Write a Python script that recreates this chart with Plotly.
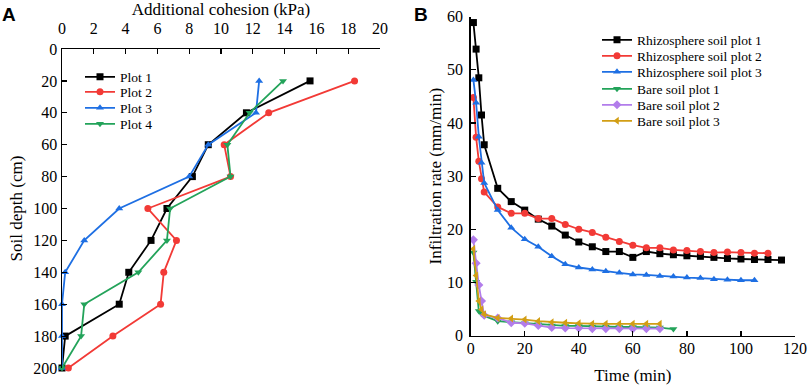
import plotly.graph_objects as go

# ---------- Panel A data ----------
depth = [20, 40, 60, 80, 100, 120, 140, 160, 180, 200]
plot1 = [15.6, 11.6, 9.2, 8.2, 6.6, 5.6, 4.2, 3.6, 0.2, 0.0]
plot2 = [18.4, 13.0, 10.2, 10.6, 5.4, 7.2, 6.4, 6.2, 3.2, 0.4]
plot3 = [12.4, 12.2, 9.2, 8.0, 3.6, 1.4, 0.2, 0.0, 0.0, 0.0]
plot4 = [13.9, 11.8, 10.4, 10.6, 6.8, 6.6, 4.8, 1.4, 1.2, 0.0]

# ---------- Panel B data ----------
t_r1 = [1, 2, 3, 4, 5, 10, 15, 20, 25, 30, 35, 40, 45, 50, 55, 60, 65, 70, 75, 80, 85, 90, 95, 100, 105, 110, 115]
rhizo1 = [58.9, 53.9, 48.5, 41.5, 35.9, 27.7, 25.2, 23.6, 21.9, 20.6, 18.9, 17.6, 16.7, 15.8, 15.8, 14.7, 15.8,
          15.4, 15.2, 15.0, 14.9, 14.7, 14.5, 14.4, 14.3, 14.3, 14.2]
t_r2 = [1, 2, 3, 4, 5, 10, 15, 20, 25, 30, 35, 40, 45, 50, 55, 60, 65, 70, 75, 80, 85, 90, 95, 100, 105, 110]
rhizo2 = [44.8, 37.3, 32.8, 29.5, 27.0, 24.2, 23.0, 23.0, 22.0, 22.0, 20.9, 20.0, 19.4, 18.5, 17.7, 17.0, 16.5,
          16.5, 16.1, 16.0, 15.8, 15.6, 15.7, 15.6, 15.5, 15.5]
t_r3 = [1, 2, 3, 4, 5, 10, 15, 20, 25, 30, 35, 40, 45, 50, 55, 60, 65, 70, 75, 80, 85, 90, 95, 100, 105]
rhizo3 = [48.1, 43.8, 37.4, 32.5, 28.7, 23.6, 20.3, 18.1, 16.7, 14.9, 13.4, 12.8, 12.4, 12.1, 11.8, 11.5, 11.4,
          11.2, 11.1, 10.9, 10.8, 10.6, 10.5, 10.4, 10.4]
t_b1 = [1, 2, 3, 4, 5, 10, 15, 20, 25, 30, 35, 40, 45, 50, 55, 60, 65, 70, 75]
bare1 = [15.6, 10.1, 4.6, 4.1, 3.7, 2.7, 2.5, 2.3, 2.1, 1.9, 1.8, 1.8, 1.7, 1.7, 1.6, 1.6, 1.6, 1.5, 1.2]
t_b2 = [1, 2, 3, 4, 5, 10, 15, 20, 25, 30, 35, 40, 45, 50, 55, 60, 65, 70]
bare2 = [18.0, 13.6, 9.5, 6.5, 3.8, 3.3, 2.4, 2.3, 1.9, 1.5, 1.4, 1.4, 1.3, 1.3, 1.3, 1.3, 1.3, 1.3]
t_b3 = [1, 2, 3, 4, 5, 10, 15, 20, 25, 30, 35, 40, 45, 50, 55, 60, 65, 70]
bare3 = [16.3, 11.3, 6.5, 4.9, 4.0, 3.3, 3.2, 3.0, 2.7, 2.5, 2.4, 2.3, 2.2, 2.2, 2.2, 2.2, 2.2, 2.2]

BLACK = "#000000"
RED = "#F23A36"
BLUE = "#1E6FE3"
GREEN = "#23A35A"
PURPLE = "#B27DEB"
GOLD = "#D29E14"
FONT = "Liberation Serif"

W, H = 809, 385


def px(x):
    return x / W


def py(y):
    return 1 - y / H


fig = go.Figure()
legends = {}

legA_x, legA_rows = 80, [77, 92, 108, 124]
legB_x, legB_rows = 597, [40, 56, 72, 89, 105, 121]

seriesA = [("Plot 1", plot1, BLACK, "square"), ("Plot 2", plot2, RED, "circle"),
           ("Plot 3", plot3, BLUE, "triangle-up"), ("Plot 4", plot4, GREEN, "triangle-down")]
n = 0
for i, (name, vals, col, sym) in enumerate(seriesA):
    n += 1
    lg = "legend" if n == 1 else f"legend{n}"
    legends[lg] = dict(x=px(legA_x), y=py(legA_rows[i]), xanchor="left", yanchor="middle",
                       bgcolor="rgba(0,0,0,0)", font=dict(family=FONT, size=13.5, color="black"),
                       itemwidth=30, visible=True)
    fig.add_trace(go.Scatter(x=vals, y=depth, name=name, mode="lines+markers",
                             line=dict(color=col, width=1.8),
                             marker=dict(symbol=sym, size=7, color=col),
                             xaxis="x", yaxis="y", legend=lg, showlegend=True, cliponaxis=False))

seriesB = [("Rhizosphere soil plot 1", t_r1, rhizo1, BLACK, "square"),
           ("Rhizosphere soil plot 2", t_r2, rhizo2, RED, "circle"),
           ("Rhizosphere soil plot 3", t_r3, rhizo3, BLUE, "triangle-up"),
           ("Bare soil plot 1", t_b1, bare1, GREEN, "triangle-down"),
           ("Bare soil plot 2", t_b2, bare2, PURPLE, "diamond"),
           ("Bare soil plot 3", t_b3, bare3, GOLD, "triangle-left")]
for i, (name, tt, vals, col, sym) in enumerate(seriesB):
    n += 1
    lg = f"legend{n}"
    legends[lg] = dict(x=px(legB_x), y=py(legB_rows[i]), xanchor="left", yanchor="middle",
                       bgcolor="rgba(0,0,0,0)", font=dict(family=FONT, size=13.5, color="black"),
                       itemwidth=30, visible=True)
    fig.add_trace(go.Scatter(x=tt, y=vals, name=name, mode="lines+markers",
                             line=dict(color=col, width=1.8),
                             marker=dict(symbol=sym, size=7, color=col),
                             xaxis="x2", yaxis="y2", legend=lg, showlegend=True, cliponaxis=False))

tickfont = dict(family=FONT, size=16, color="black")
axcommon = dict(showgrid=False, zeroline=False, showline=True, linecolor="black", linewidth=1.5,
                ticks="inside", ticklen=5, tickwidth=1.2, tickcolor="black", tickfont=tickfont,
                automargin=False)
titlefont = dict(family=FONT, size=17, color="black")

fig.update_layout(
    width=W, height=H, margin=dict(l=0, r=0, t=0, b=0),
    paper_bgcolor="white", plot_bgcolor="white", showlegend=True, hovermode=False,
    font=dict(family=FONT, size=16, color="black"),
    xaxis=dict(domain=[px(62), px(380)], range=[0, 20], dtick=2, side="top", anchor="y",
               ticklabelstandoff=7,
               title=dict(text="Additional cohesion (kPa)", font=titlefont, standoff=14),
               **axcommon),
    yaxis=dict(domain=[py(368), py(49)], range=[200, 0], dtick=20, anchor="x",
               title=dict(text="Soil depth (cm)", font=titlefont, standoff=6),
               **axcommon),
    xaxis2=dict(domain=[px(470.7), px(795)], range=[0, 120], dtick=20, anchor="y2",
                ticklabelstandoff=-2,
                title=dict(text="Time (min)", font=titlefont, standoff=14),
                **axcommon),
    yaxis2=dict(domain=[py(335.5), py(16.7)], range=[0, 60], dtick=10, anchor="x2",
                ticklabelstandoff=3,
                title=dict(text="Infiltration rate (mm/min)", font=titlefont, standoff=1),
                **axcommon),
    annotations=[
        dict(text="<b>A</b>", x=px(1), y=py(3), xref="paper", yref="paper", xanchor="left", yanchor="top",
             showarrow=False, borderpad=0, font=dict(family="Liberation Sans", size=19, color="black")),
        dict(text="<b>B</b>", x=px(413), y=py(3), xref="paper", yref="paper", xanchor="left", yanchor="top",
             showarrow=False, borderpad=0, font=dict(family="Liberation Sans", size=19, color="black")),
    ],
    **legends,
)

# remove the default 8px page margin so the 809x385 figure fills the window exactly
fig.write_html("out.html", config={"displayModeBar": False, "staticPlot": True},
               post_script="document.body.style.margin='0';document.body.style.overflow='hidden';")
